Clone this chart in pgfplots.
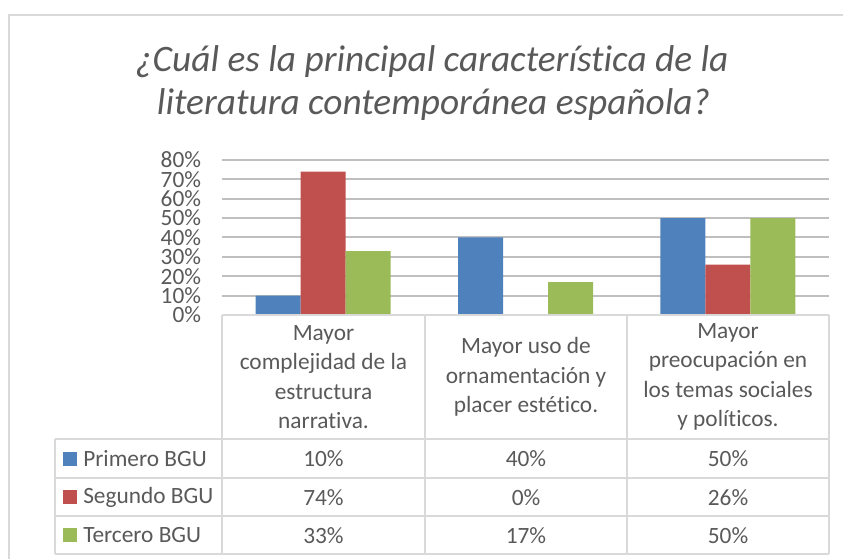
\documentclass[border=0pt]{standalone}
\usepackage{pgfplots}
\pgfplotsset{compat=1.18}
\usepackage{fontspec}
\setmainfont{Carlito}[Ligatures=NoCommon, RawFeature={-liga;-clig;-calt;-dlig}]
\definecolor{cblue}{HTML}{4F81BD}
\definecolor{cred}{HTML}{C0504D}
\definecolor{cgreen}{HTML}{9BBB59}
\definecolor{txt}{HTML}{595959}
\definecolor{grid}{HTML}{D9D9D9}
\newcommand{\tfont}{\fontsize{17.5}{22}\selectfont}
\begin{document}
\begin{tikzpicture}[x=0.75pt,y=-0.75pt]
\path[use as bounding box] (0,0) rectangle (843,559);
\draw[grid,line width=1.5pt] (9,559) -- (9,15) -- (843,15);
\begin{axis}[
  at={(166.5pt,-236.25pt)}, anchor=south west,
  scale only axis, width=455.25pt, height=116.25pt,
  xmin=-0.5, xmax=2.5, ymin=0, ymax=0.8,
  axis line style={draw=none},
  ymajorgrids, grid style={grid,line width=1.5pt},
  xtick=\empty,
  ytick={0,0.1,0.2,0.3,0.4,0.5,0.6,0.7,0.8},
  yticklabels={0\%,10\%,20\%,30\%,40\%,50\%,60\%,70\%,80\%},
  major tick length=0pt,
  yticklabel style={font=\tfont, text=txt, anchor=east, inner sep=0pt, xshift=-15.5pt},
  ybar=0pt, bar width=33.75pt,
  clip=false,
]
\addplot[fill=cblue, draw=none] coordinates {(0,0.10) (1,0.40) (2,0.50)};
\addplot[fill=cred, draw=none] coordinates {(0,0.74) (1,0.0) (2,0.26)};
\addplot[fill=cgreen, draw=none] coordinates {(0,0.33) (1,0.17) (2,0.50)};
\end{axis}
% data table
\begin{scope}[grid, line width=1.5pt]
\foreach \xx in {222,425,627,829} \draw (\xx,315) -- (\xx,554);
\draw (55,439) -- (55,554);
\draw (222,315) -- (829,315);
\foreach \yy in {439,478,516,554} \draw (55,\yy) -- (829,\yy);
\end{scope}
\begin{scope}[every node/.style={text=txt, font=\tfont, align=center, inner sep=0pt}]
\node at (323.5,377) {Mayor\\complejidad de la\\estructura\\narrativa.};
\node at (526,377) {Mayor uso de\\ornamentación y\\placer estético.};
\node at (728,377) {Mayor\\preocupación en\\los temas sociales\\y políticos.};
\node at (323.5,459) {10\%}; \node at (526,459) {40\%}; \node at (728,459) {50\%};
\node at (323.5,497.5) {74\%}; \node at (526,497.5) {0\%}; \node at (728,497.5) {26\%};
\node at (323.5,535.5) {33\%}; \node at (526,535.5) {17\%}; \node at (728,535.5) {50\%};
\node[anchor=west] at (83,459) {Primero BGU};
\node[anchor=west] at (83,497.5) {Segundo BGU};
\node[anchor=west] at (83,535.5) {Tercero BGU};
\end{scope}
\fill[cblue] (63,452) rectangle (77,466);
\fill[cred] (63,490.5) rectangle (77,504.5);
\fill[cgreen] (63,528.5) rectangle (77,542.5);
\node[text=txt, font=\fontsize{28}{34}\selectfont\itshape, inner sep=0pt] at (432,62) {¿Cuál es la principal característica de la};
\node[text=txt, font=\fontsize{28}{34}\selectfont\itshape, inner sep=0pt] at (433.5,105) {literatura contemporánea española?};
\end{tikzpicture}
\end{document}
